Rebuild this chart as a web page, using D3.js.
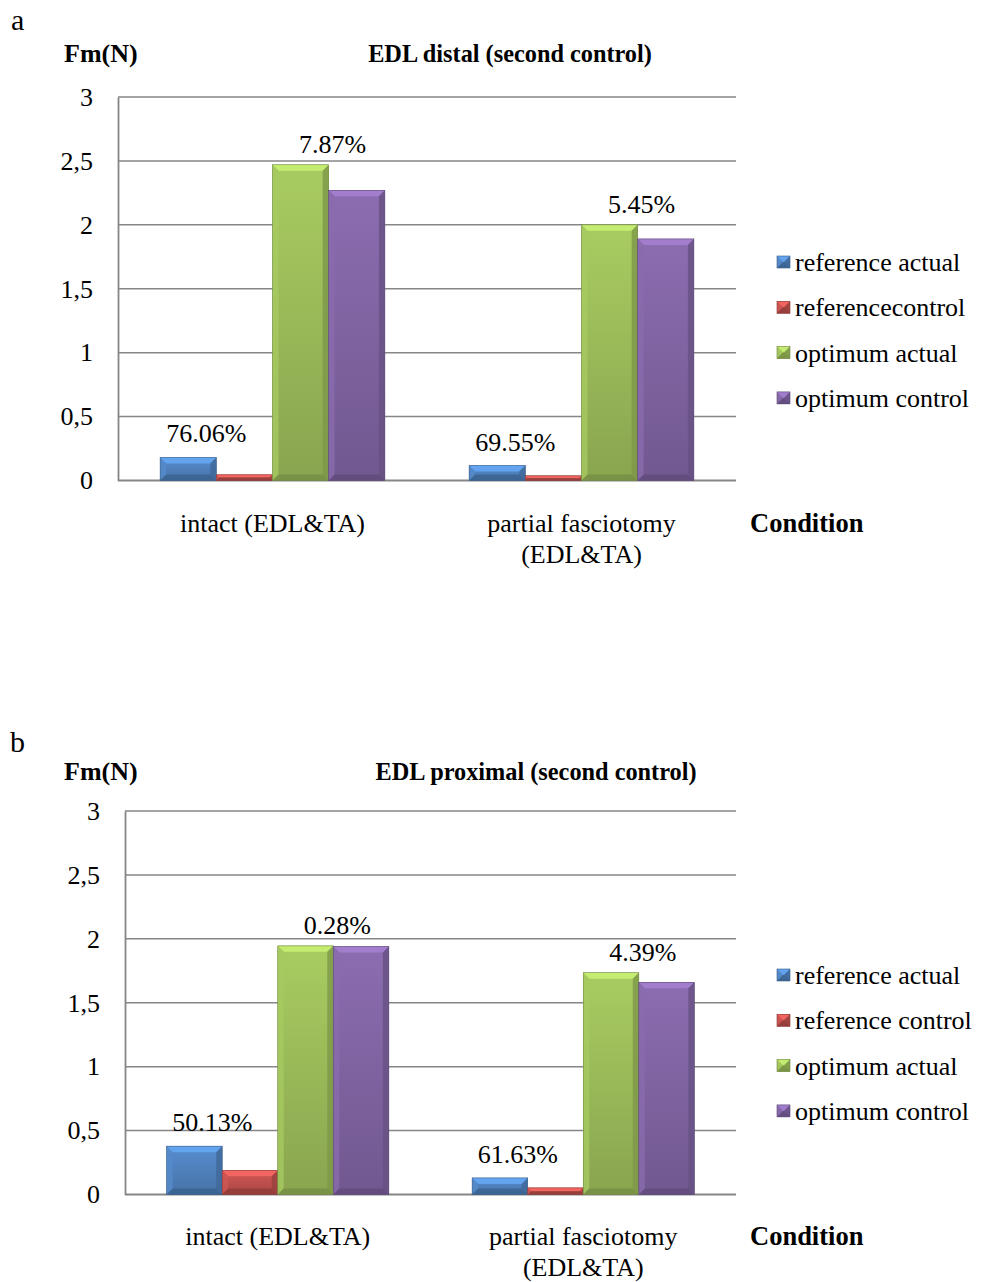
<!DOCTYPE html>
<html>
<head>
<meta charset="utf-8">
<script src="https://cdn.jsdelivr.net/npm/d3@7"></script>
<style>
  html, body { margin: 0; padding: 0; background: #ffffff; }
  svg text { font-family: "Liberation Serif", "Times New Roman", serif; fill: #000; }
</style>
</head>
<body>
<svg id="chart" width="981" height="1282"></svg>
<script>
// ---------- DATA ----------
const categories = ["intact (EDL&TA)", "partial fasciotomy\n(EDL&TA)"];
const yTicks = [0, 0.5, 1, 1.5, 2, 2.5, 3];
const yTickLabels = ["0", "0,5", "1", "1,5", "2", "2,5", "3"];

// Chart a: EDL distal (second control)
const seriesNamesA = ["reference actual", "referencecontrol", "optimum actual", "optimum control"];
const refActualA  = [0.18, 0.117];
const refControlA = [0.045, 0.037];
const optActualA  = [2.47, 2.0];
const optControlA = [2.27, 1.89];
const lowLabelsA  = ["76.06%", "69.55%"];
const highLabelsA = ["7.87%", "5.45%"];

// Chart b: EDL proximal (second control)
const seriesNamesB = ["reference actual", "reference control", "optimum actual", "optimum control"];
const refActualB  = [0.378, 0.13];
const refControlB = [0.189, 0.052];
const optActualB  = [1.945, 1.735];
const optControlB = [1.94, 1.66];
const lowLabelsB  = ["50.13%", "61.63%"];
const highLabelsB = ["0.28%", "4.39%"];

const seriesColors = ["#4F81BD", "#C0504D", "#9BBB59", "#8064A2"];

// ---------- DRAWING ----------
const svg = d3.select("#chart");
const defs = svg.append("defs");
const FS = 26;

seriesColors.forEach((c, i) => {
  const g = defs.append("linearGradient").attr("id", "grad" + i)
    .attr("x1", 0).attr("y1", 0).attr("x2", 0).attr("y2", 1);
  g.append("stop").attr("offset", "0%").attr("stop-color", d3.color(c).brighter(0.25));
  g.append("stop").attr("offset", "100%").attr("stop-color", d3.color(c).darker(0.35));
});

function bevelBar(g, x, y, w, h, si) {
  const c = d3.color(seriesColors[si]);
  const b = Math.max(1, Math.min(6, h / 2, w / 2));
  g.append("rect").attr("x", x).attr("y", y).attr("width", w).attr("height", h)
    .attr("fill", `url(#grad${si})`);
  g.append("path").attr("d", `M${x},${y}L${x + w},${y}L${x + w - b},${y + b}L${x + b},${y + b}Z`)
    .attr("fill", c.brighter(0.7)).attr("opacity", 0.9);
  g.append("path").attr("d", `M${x},${y}L${x + b},${y + b}L${x + b},${y + h - b}L${x},${y + h}Z`)
    .attr("fill", c.brighter(0.2)).attr("opacity", 0.8);
  g.append("path").attr("d", `M${x + w},${y}L${x + w - b},${y + b}L${x + w - b},${y + h - b}L${x + w},${y + h}Z`)
    .attr("fill", c.darker(0.6)).attr("opacity", 0.8);
  g.append("path").attr("d", `M${x},${y + h}L${x + b},${y + h - b}L${x + w - b},${y + h - b}L${x + w},${y + h}Z`)
    .attr("fill", c.darker(0.8)).attr("opacity", 0.8);
  g.append("rect").attr("x", x).attr("y", y).attr("width", w).attr("height", h)
    .attr("fill", "none").attr("stroke", c.darker(0.9)).attr("stroke-width", 0.6);
}

function drawChart(cfg) {
  const g = svg.append("g");
  const y = d3.scaleLinear().domain([0, 3]).range([cfg.y0, cfg.y3]);
  const x0 = d3.scaleBand().domain(categories).range([cfg.left, cfg.right]).paddingInner(0).paddingOuter(0);
  const x1 = d3.scaleBand().domain(d3.range(4)).range([0, x0.bandwidth()]).paddingInner(0).paddingOuter(0.75);
  const series = [cfg.refActual, cfg.refControl, cfg.optActual, cfg.optControl];
  const gray = "#868686";

  g.append("text").attr("x", cfg.letterX).attr("y", cfg.letterY).attr("font-size", 30).text(cfg.letter);
  g.append("text").attr("x", 64).attr("y", cfg.titleY).attr("font-size", 26).attr("font-weight", "bold").text("Fm(N)");
  g.append("text").attr("x", cfg.titleX).attr("y", cfg.titleY).attr("text-anchor", "middle")
    .attr("font-size", 24.3).attr("font-weight", "bold").text(cfg.title);

  g.append("g").selectAll("line").data(yTicks.filter(t => t > 0)).join("line")
    .attr("x1", cfg.left).attr("x2", cfg.right)
    .attr("y1", d => y(d)).attr("y2", d => y(d))
    .attr("stroke", gray).attr("stroke-width", 1.5);

  const yAxis = d3.axisLeft(y).tickValues(yTicks).tickSize(0).tickPadding(25)
    .tickFormat((d, i) => yTickLabels[i]);
  const ya = g.append("g").attr("transform", `translate(${cfg.left},0)`).call(yAxis);
  ya.select(".domain").attr("stroke", gray).attr("stroke-width", 1.8);
  ya.selectAll("text").attr("font-size", FS).attr("font-family", "Liberation Serif, Times New Roman, serif").attr("fill", "#000");

  g.append("line").attr("x1", cfg.left).attr("x2", cfg.right).attr("y1", y(0)).attr("y2", y(0))
    .attr("stroke", gray).attr("stroke-width", 1.8);

  categories.forEach((cat, ci) => {
    series.forEach((vals, si) => {
      const bx = x0(cat) + x1(si);
      const by = y(vals[ci]);
      bevelBar(g, bx, by, x1.bandwidth(), y(0) - by, si);
    });
    const bw = x1.bandwidth();
    const lowX = x0(cat) + x1(0) + bw / 2 + 18;
    g.append("text").attr("x", lowX).attr("y", y(series[0][ci]) - 15)
      .attr("text-anchor", "middle").attr("font-size", FS).text(cfg.lowLabels[ci]);
    const highX = x0(cat) + x1(3) + 4;
    g.append("text").attr("x", highX).attr("y", y(Math.max(series[2][ci], series[3][ci])) - 12)
      .attr("text-anchor", "middle").attr("font-size", FS).text(cfg.highLabels[ci]);
    const lines = cat.split("\n");
    lines.forEach((ln, li) => {
      g.append("text").attr("x", x0(cat) + x0.bandwidth() / 2).attr("y", cfg.catY + li * 31)
        .attr("text-anchor", "middle").attr("font-size", FS).text(ln);
    });
  });

  g.append("text").attr("x", 750).attr("y", cfg.catY).attr("font-size", 26.5).attr("font-weight", "bold").text("Condition");

  cfg.names.forEach((nm, i) => {
    const ly = cfg.legendY + i * 45.3;
    bevelBar(g, 777, ly - 6, 13, 12, i);
    g.append("text").attr("x", 795).attr("y", ly + 9).attr("font-size", FS).text(nm);
  });
}

drawChart({
  letter: "a", letterX: 11, letterY: 30, title: "EDL distal (second control)", titleX: 510, titleY: 62,
  left: 118, right: 736, y0: 480.5, y3: 97,
  refActual: refActualA, refControl: refControlA, optActual: optActualA, optControl: optControlA,
  lowLabels: lowLabelsA, highLabels: highLabelsA, names: seriesNamesA,
  catY: 532, legendY: 262
});

drawChart({
  letter: "b", letterX: 10, letterY: 752, title: "EDL proximal (second control)", titleX: 536, titleY: 780,
  left: 125, right: 736, y0: 1194.5, y3: 811,
  refActual: refActualB, refControl: refControlB, optActual: optActualB, optControl: optControlB,
  lowLabels: lowLabelsB, highLabels: highLabelsB, names: seriesNamesB,
  catY: 1245, legendY: 975
});
</script>
</body>
</html>
